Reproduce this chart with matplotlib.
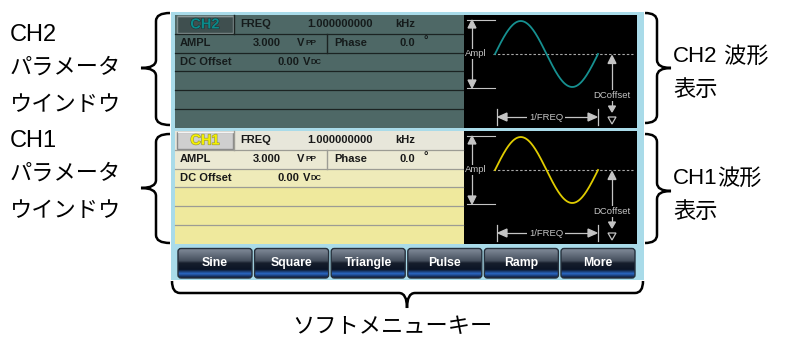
import numpy as np
import matplotlib
matplotlib.use('Agg')
from matplotlib import pyplot as plt, patches
from matplotlib.path import Path
from matplotlib.colors import LinearSegmentedColormap
import matplotlib.patheffects as pe

plt.rcParams['font.family'] = ['Liberation Sans', 'Noto Sans CJK JP', 'DejaVu Sans']

# 画面の中身 (テキストと値)
channels = ['CH2', 'CH1']
freq_value = '1.000000000'
freq_unit = 'kHz'
ampl_value = '3.000'
phase_value = '0.0'
offset_value = '0.00'
button_labels = ['Sine', 'Square', 'Triangle', 'Pulse', 'Ramp', 'More']
left_notes = [['CH2', 'パラメータ', 'ウインドウ'], ['CH1', 'パラメータ', 'ウインドウ']]
right_notes = [['CH2', ' 波形', '表示'], ['CH1', '波形', '表示']]
bottom_note = 'ソフトメニューキー'

# 表示する波形 (1周期のサイン波)
phase = np.linspace(0, 2 * np.pi, 200)
wave = np.sin(phase)

fig = plt.figure(figsize=(7.87, 3.38), dpi=100)
ax = fig.add_axes([0, 0, 1, 1])
ax.axis('off')

FRAME = '#a9dbe9'
GRAY_TXT = '#c4c4c4'


def brace(xe, xv, xt, y0, y1, ym):
    # 縦向きの波かっこ
    verts = [(xe, y0), (xv, y0), (xv, y0 + 8), (xv, ym - 8), (xv, ym), (xt, ym),
             (xv, ym), (xv, ym + 8), (xv, y1 - 8), (xv, y1), (xe, y1)]
    codes = [Path.MOVETO, Path.CURVE3, Path.CURVE3, Path.LINETO, Path.CURVE3, Path.CURVE3,
             Path.CURVE3, Path.CURVE3, Path.LINETO, Path.CURVE3, Path.CURVE3]
    ax.add_patch(patches.PathPatch(Path(verts, codes), fill=False, lw=1.8,
                                   ec='black', capstyle='butt'))


def hbrace(x0, x1, xm, ye, yh, yt):
    verts = [(x0, ye), (x0, yh), (x0 + 8, yh), (xm - 8, yh), (xm, yh), (xm, yt),
             (xm, yh), (xm + 8, yh), (x1 - 8, yh), (x1, yh), (x1, ye)]
    codes = [Path.MOVETO, Path.CURVE3, Path.CURVE3, Path.LINETO, Path.CURVE3, Path.CURVE3,
             Path.CURVE3, Path.CURVE3, Path.LINETO, Path.CURVE3, Path.CURVE3]
    ax.add_patch(patches.PathPatch(Path(verts, codes), fill=False, lw=1.8, ec='black'))


def head(x, y, direction, size=8, half=4, filled=True, color=GRAY_TXT):
    if direction == 'up':
        pts = [(x, y), (x - half, y + size), (x + half, y + size)]
    elif direction == 'down':
        pts = [(x, y), (x - half, y - size), (x + half, y - size)]
    elif direction == 'left':
        pts = [(x, y), (x + size, y - half), (x + size, y + half)]
    else:
        pts = [(x, y), (x - size, y - half), (x - size, y + half)]
    ax.add_patch(patches.Polygon(pts, closed=True, fc=color if filled else 'black',
                                 ec=color, lw=0.9, zorder=5))


# 外枠
ax.add_patch(patches.Rectangle((171, 12), 473, 268, fc=FRAME, ec='none'))

styles = {
    'CH2': dict(rows=['#4e6866'] * 6, line='#1b2322', txt='#151b1b',
                tab='#3f4f4f', tab_txt='#0a8a8a', wave='#169090'),
    'CH1': dict(rows=['#e7e6da', '#ebe9d3', '#efebb9', '#efe99d', '#efe99d', '#efe99d'],
                line='#9c9c94', txt='#181818', tab='#cfcfcf', tab_txt='#f4f000',
                wave='#e0cc00'),
}
panel_top = {'CH2': 15, 'CH1': 131}
row_h = 18.8

for ch in channels:
    st = styles[ch]
    y0 = panel_top[ch]
    # パラメータ欄
    for k, c in enumerate(st['rows']):
        ax.add_patch(patches.Rectangle((175, y0 + k * row_h), 288.5, row_h, fc=c, ec='none'))
    for k in range(1, 6):
        ax.plot([175, 463], [y0 + k * row_h] * 2, color=st['line'], lw=0.9)
    ax.plot([327, 327], [y0 + row_h, y0 + 2 * row_h], color=st['line'], lw=1.0)
    # タブ
    ax.add_patch(patches.Rectangle((177, y0 + 0.5), 56, 17.5, fc=st['tab'],
                                   ec='#7e8c8c' if ch == 'CH2' else '#8a8a8a', lw=1.0))
    ax.plot([177.5, 232.5], [y0 + 1, y0 + 1], color='#8a9696' if ch == 'CH2' else '#f4f4f4', lw=1.0)
    if ch == 'CH2':
        effects = [pe.withStroke(linewidth=0.8, foreground='#1f3030')]
    else:
        effects = [pe.withStroke(linewidth=0.9, foreground='#9a9a40')]
    ax.text(205, y0 + 9.5, ch, ha='center', va='center', fontsize=10.5, fontweight='bold',
            color=st['tab_txt'], path_effects=effects)
    ax.plot([233.5, 233.5], [y0, y0 + row_h], color=st['line'], lw=1.0)
    # 値
    r1, r2, r3 = y0 + row_h * 0.5, y0 + row_h * 1.5, y0 + row_h * 2.5
    kw = dict(va='center', ha='left', fontsize=8, fontweight='bold', color=st['txt'])
    ax.text(240, r1, 'FREQ', **kw)
    ax.text(307, r1, freq_value, **kw)
    ax.text(395, r1, freq_unit, **kw)
    ax.text(180, r2, 'AMPL', **kw)
    ax.text(253, r2, ampl_value, **kw)
    ax.text(297, r2, 'V', **kw)
    ax.text(305, r2 + 0.6, 'PP', va='center', ha='left', fontsize=6, fontweight='bold', color=st['txt'])
    ax.text(334, r2, 'Phase', **kw)
    ax.text(400, r2, phase_value, **kw)
    ax.text(424, r2 - 2.5, '°', **kw)
    ax.text(180, r3, 'DC Offset', **kw)
    ax.text(278, r3, offset_value, **kw)
    ax.text(303, r3, 'V', **kw)
    ax.text(310.5, r3 + 0.6, 'DC', va='center', ha='left', fontsize=5.5, fontweight='bold', color=st['txt'])

    # 波形表示
    ax.add_patch(patches.Rectangle((464, y0), 173, 113, fc='black', ec='none'))
    c = y0 + 39
    ax.plot([493, 633], [c, c], color='#a8a8a8', lw=0.8, dashes=(2.2, 1.8))
    xs = 495 + phase / (2 * np.pi) * 103
    ax.plot(xs, c - 33 * wave, color=st['wave'], lw=1.3, zorder=4)
    # Ampl
    top, bot = c - 34, c + 34
    ax.plot([467, 495], [top, top], color=GRAY_TXT, lw=0.8)
    ax.plot([467, 495], [bot, bot], color=GRAY_TXT, lw=0.8)
    ax.plot([472, 472], [top + 4, bot - 4], color=GRAY_TXT, lw=0.9)
    head(472, top, 'up')
    head(472, bot, 'down')
    ax.text(465, c, 'Ampl', ha='left', va='center', fontsize=6.8, color=GRAY_TXT,
            bbox=dict(fc='black', ec='none', pad=0.6), zorder=6)
    # DCoffset
    ax.plot([612, 612], [c + 4, c + 35], color=GRAY_TXT, lw=0.9)
    head(612, c + 1.5, 'up')
    ax.text(612, c + 41.5, 'DCoffset', ha='center', va='center', fontsize=6.8, color=GRAY_TXT,
            bbox=dict(fc='black', ec='none', pad=0.6), zorder=6)
    ax.plot([612, 612], [c + 47, c + 55], color=GRAY_TXT, lw=0.9)
    head(612, c + 58, 'down', size=6, half=3.5)
    head(612, c + 70, 'down', size=7, half=4, filled=False)
    # 1/FREQ
    fy = c + 63
    ax.plot([497, 497], [fy - 8, fy + 8], color=GRAY_TXT, lw=0.9)
    ax.plot([598, 598], [fy - 8, fy + 8], color=GRAY_TXT, lw=0.9)
    ax.plot([500, 595], [fy, fy], color=GRAY_TXT, lw=0.9)
    head(498, fy, 'left', size=9, half=4)
    head(597, fy, 'right', size=9, half=4)
    ax.text(546, fy, '1/FREQ', ha='center', va='center', fontsize=6.8, color=GRAY_TXT,
            bbox=dict(fc='black', ec='none', pad=1.2), zorder=6)

# ソフトキー
btn_cmap = LinearSegmentedColormap.from_list('btn', [
    (0.0, '#838d9b'), (0.42, '#46505e'), (0.5, '#161e2c'), (0.72, '#0b1426'),
    (0.86, '#2b68c4'), (1.0, '#0c1630')])
grad = np.linspace(0, 1, 64).reshape(-1, 1)
for i, lab in enumerate(button_labels):
    bx = 178 + i * 76.6
    box = patches.FancyBboxPatch((bx, 248.5), 74, 29.5,
                                 boxstyle='round,pad=0,rounding_size=3',
                                 fc='none', ec='#26303c', lw=1.0, zorder=3)
    ax.add_patch(box)
    im = ax.imshow(grad, cmap=btn_cmap, extent=(bx, bx + 74, 278, 248.5),
                   origin='upper', aspect='auto', zorder=2)
    im.set_clip_path(box)
    ax.text(bx + 37, 263, lab, ha='center', va='center', fontsize=8.8, fontweight='bold',
            color='white', family=['Liberation Sans Narrow', 'Liberation Sans'], zorder=4)

# 注釈
brace(170, 156, 141, 13, 125, 68)
brace(170, 156, 141, 134, 243, 188)
brace(645, 657, 671, 13, 123, 68)
brace(645, 657, 671, 134, 243, 191)
hbrace(172, 643, 407, 281, 293, 308)

for lines, ys in zip(left_notes, [[35, 68, 105], [141, 174, 211]]):
    ax.text(10, ys[0], lines[0], ha='left', va='center', fontsize=17)
    for t, y in zip(lines[1:], ys[1:]):
        ax.text(10, y, t, ha='left', va='center', fontsize=16)
for lines, ys in zip(right_notes, [[57, 91], [179, 212]]):
    lab = ax.text(673, ys[0], lines[0], ha='left', va='center', fontsize=16)
    ax.annotate(lines[1], xy=(1, 0.5), xycoords=lab, xytext=(0, 0), textcoords='offset points',
                ha='left', va='center', fontsize=16)
    ax.text(673, ys[1], lines[2], ha='left', va='center', fontsize=16)
ax.text(392, 328, bottom_note, ha='center', va='center', fontsize=16)

ax.set_xlim(0, 787)
ax.set_ylim(338, 0)
fig.savefig('out.png', dpi=100, facecolor='white')
